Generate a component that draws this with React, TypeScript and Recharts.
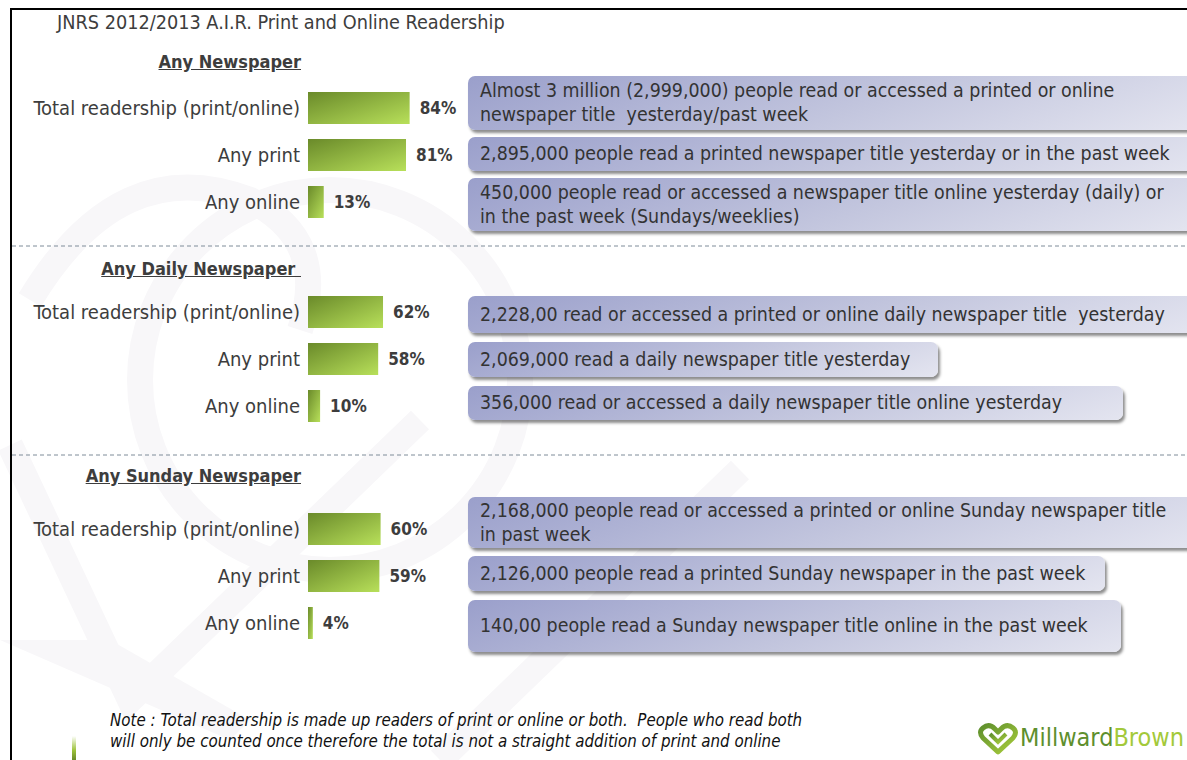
import React from 'react';
import { BarChart, Bar, XAxis, YAxis, LabelList } from 'recharts';

const rowLabels = ['Total readership (print/online)', 'Any print', 'Any online'];
const sectionTitles = ['Any Newspaper', 'Any Daily Newspaper\u00a0', 'Any Sunday Newspaper'];

const anyNewspaper = [84, 81, 13];
const anyDaily = [62, 58, 10];
const anySunday = [60, 59, 4];

const anyNewspaperNotes = [
  ['Almost 3 million (2,999,000) people read or accessed a printed or online', 'newspaper title\u00a0 yesterday/past week'],
  ['2,895,000 people read a printed newspaper title yesterday or in the past week'],
  ['450,000 people read or accessed a newspaper title online yesterday (daily) or', 'in the past week (Sundays/weeklies)'],
];
const anyDailyNotes = [
  ['2,228,00 read or accessed a printed or online daily newspaper title\u00a0 yesterday'],
  ['2,069,000 read a daily newspaper title yesterday'],
  ['356,000 read or accessed a daily newspaper title online yesterday'],
];
const anySundayNotes = [
  ['2,168,000 people read or accessed a printed or online Sunday newspaper title', 'in past week'],
  ['2,126,000 people read a printed Sunday newspaper in the past week'],
  ['140,00 people read a Sunday newspaper title online in the past week'],
];

const noteLines = [
  'Note : Total readership is made up readers of print or online or both.\u00a0 People who read both',
  'will only be counted once therefore the total is not a straight addition of print and online',
];

const FONT = '"DejaVu Sans Condensed", "DejaVu Sans", sans-serif';
const TEXT = '#3d3d3d';

// layout of the three blocks (band top of the bar chart, header y, note boxes)
const sections = [
  {
    values: anyNewspaper,
    notes: anyNewspaperNotes,
    bandTop: 83.5,
    headerY: 63,
    boxes: [
      { top: 76, height: 54, right: 1200 },
      { top: 137, height: 34, right: 1200 },
      { top: 178, height: 53, right: 1200 },
    ],
  },
  {
    values: anyDaily,
    notes: anyDailyNotes,
    bandTop: 287.5,
    headerY: 270,
    boxes: [
      { top: 296, height: 37, right: 1200 },
      { top: 342, height: 35, right: 938 },
      { top: 386, height: 34, right: 1123 },
    ],
  },
  {
    values: anySunday,
    notes: anySundayNotes,
    bandTop: 505,
    headerY: 477,
    boxes: [
      { top: 497, height: 51, right: 1200 },
      { top: 556, height: 35, right: 1105 },
      { top: 600, height: 52, right: 1121 },
    ],
  },
];

const RowTick = ({ x, y, payload }: any) => (
  <text
    x={x}
    y={y}
    textAnchor="end"
    dominantBaseline="central"
    fill={TEXT}
    fontFamily={FONT}
    fontSize={20}
  >
    {payload.value}
  </text>
);

const ValueLabel = ({ x, y, width, height, value }: any) => (
  <text
    x={x + width + 10}
    y={y + height / 2}
    dominantBaseline="central"
    fill={TEXT}
    fontFamily={FONT}
    fontWeight="bold"
    fontSize={17}
  >
    {value}%
  </text>
);

function Section({ values, bandTop, idx }: { values: number[]; bandTop: number; idx: number }) {
  const data = rowLabels.map((name, i) => ({ name, value: values[i] }));
  return (
    <div style={{ position: 'absolute', left: 0, top: bandTop }}>
      <BarChart
        width={470}
        height={141}
        layout="vertical"
        data={data}
        margin={{ top: 0, right: 41, bottom: 0, left: 0 }}
      >
        <defs>
          <linearGradient id={`barGrad${idx}`} x1="0" y1="0" x2="1" y2="1">
            <stop offset="0%" stopColor="#6a8a2a" />
            <stop offset="100%" stopColor="#b8e05a" />
          </linearGradient>
        </defs>
        <XAxis type="number" domain={[0, 100]} hide />
        <YAxis
          type="category"
          dataKey="name"
          width={308}
          axisLine={false}
          tickLine={false}
          tickSize={0}
          tickMargin={8}
          tick={<RowTick />}
          interval={0}
        />
        <Bar dataKey="value" barSize={32} fill={`url(#barGrad${idx})`} isAnimationActive={false}>
          <LabelList dataKey="value" content={<ValueLabel />} />
        </Bar>
      </BarChart>
    </div>
  );
}

function NoteBox({ top, height, right, lines }: any) {
  const left = 468;
  return (
    <div
      style={{
        position: 'absolute',
        left,
        top,
        width: right - left,
        height,
        boxSizing: 'border-box',
        borderRadius: 7,
        background: 'linear-gradient(160deg, #9a9fcb 0%, #c3c6de 55%, #e4e5f0 100%)',
        boxShadow: '2px 3px 3px rgba(0,0,0,0.45)',
        display: 'flex',
        flexDirection: 'column',
        justifyContent: 'center',
        paddingLeft: 12,
        fontFamily: FONT,
        fontSize: 19.4,
        lineHeight: '24px',
        color: '#333',
        whiteSpace: 'pre',
      }}
    >
      {lines.map((l: string, i: number) => (
        <div key={i}>{l}</div>
      ))}
    </div>
  );
}

export default function App() {
  return (
    <div
      style={{
        position: 'relative',
        width: 1187,
        height: 760,
        overflow: 'hidden',
        background: '#fff',
        fontFamily: FONT,
      }}
    >
      <style>{`body{margin:0}`}</style>
      {/* faint watermark of the heart logo */}
      <svg width={1187} height={760} style={{ position: 'absolute', left: 0, top: 0 }}>
        <g fill="none" stroke="#f8f7f9" strokeWidth={26}>
          <path d="M 10 445 L 130 700 L 420 420" />
          <path d="M 30 300 Q 120 150 250 200 Q 330 240 300 330" />
          <circle cx={330} cy={380} r={190} />
          <path d="M 440 760 L 740 470" />
        </g>
        <path d="M 0 640 L 110 640 L 250 720 L 230 740 Z" fill="#f8f7f9" />
      </svg>
      {/* frame */}
      <div
        style={{
          position: 'absolute',
          left: 10,
          top: 8,
          width: 1200,
          height: 800,
          borderLeft: '2px solid #000',
          borderTop: '2px solid #000',
        }}
      />
      <div
        style={{
          position: 'absolute',
          left: 57,
          top: 11,
          fontSize: 19.7,
          color: TEXT,
          whiteSpace: 'nowrap',
        }}
      >
        JNRS 2012/2013 A.I.R. Print and Online Readership
      </div>
      {/* dashed separators */}
      <svg width={1187} height={760} style={{ position: 'absolute', left: 0, top: 0 }}>
        <line x1={12} x2={1187} y1={246} y2={246} stroke="#7f8c99" strokeDasharray="4 3" strokeWidth={1} />
        <line x1={12} x2={1187} y1={455} y2={455} stroke="#7f8c99" strokeDasharray="4 3" strokeWidth={1} />
      </svg>
      {sections.map((s, si) => (
        <React.Fragment key={si}>
          <div
            style={{
              position: 'absolute',
              right: 1187 - 301,
              top: s.headerY - 12,
              fontSize: 18,
              fontWeight: 'bold',
              textDecoration: 'underline',
              color: TEXT,
              whiteSpace: 'pre',
            }}
          >
            {sectionTitles[si]}
          </div>
          <Section values={s.values} bandTop={s.bandTop} idx={si} />
          {s.boxes.map((b, bi) => (
            <NoteBox key={bi} {...b} lines={s.notes[bi]} />
          ))}
        </React.Fragment>
      ))}
      {/* footnote */}
      <div
        style={{
          position: 'absolute',
          left: 110,
          top: 710,
          fontStyle: 'italic',
          fontSize: 16.8,
          lineHeight: '21px',
          color: '#111',
          whiteSpace: 'pre',
        }}
      >
        {noteLines.map((l, i) => (
          <div key={i}>{l}</div>
        ))}
      </div>
      {/* green accent strip */}
      <div
        style={{
          position: 'absolute',
          left: 72,
          top: 736,
          width: 4,
          height: 24,
          background: 'linear-gradient(180deg, #ffffff 0%, #9cc23a 60%, #6a8a2a 100%)',
        }}
      />
      {/* logo */}
      <svg width={40} height={34} style={{ position: 'absolute', left: 978, top: 722 }}>
        <defs>
          <linearGradient id="logoGrad" x1="0" y1="0" x2="1" y2="1">
            <stop offset="0%" stopColor="#5e8f2d" />
            <stop offset="100%" stopColor="#a9cd3c" />
          </linearGradient>
        </defs>
        <path
          d="M 20 30 L 5 16 Q 0 10 5 6 Q 11 1 17 7 L 20 10 L 23 7 Q 29 1 35 6 Q 40 10 35 16 Z"
          fill="none"
          stroke="url(#logoGrad)"
          strokeWidth={5}
          strokeLinejoin="round"
        />
        <path d="M 12 12 L 20 20 L 28 12" fill="none" stroke="url(#logoGrad)" strokeWidth={4} />
      </svg>
      <div
        style={{
          position: 'absolute',
          left: 1020,
          top: 723,
          fontSize: 25,
          whiteSpace: 'nowrap',
        }}
      >
        <span style={{ color: '#5e8f2d' }}>Millward</span>
        <span style={{ color: '#a3c93a' }}>Brown</span>
      </div>
    </div>
  );
}
